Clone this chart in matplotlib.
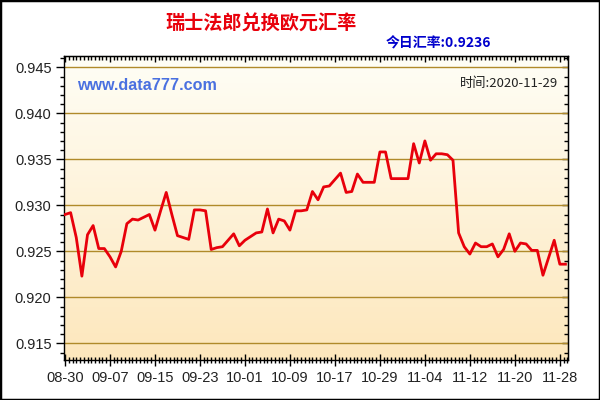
import matplotlib
matplotlib.use("Agg")
import matplotlib.pyplot as plt
import numpy as np
from matplotlib.ticker import MultipleLocator
from matplotlib.patches import Rectangle
from matplotlib.colors import LinearSegmentedColormap

plt.rcParams['font.family'] = ['Liberation Sans', 'Noto Sans CJK SC', 'DejaVu Sans']

title = "瑞士法郎兑换欧元汇率"
today_label = "今日汇率:0.9236"
site_label = "www.data777.com"
time_label = "时间:2020-11-29"

day_index = [0, 1, 2, 3, 4, 5, 6, 7, 8, 9, 10, 11, 12, 13, 14, 15, 16, 17, 18, 19,
             20, 21, 22, 23, 24, 25, 26, 27, 28, 29, 30, 31, 32, 33, 34, 35, 36, 37, 38, 39,
             40, 41, 42, 43, 44, 45, 46, 47, 48, 49, 50, 51, 52, 53, 54, 55, 56, 57, 58, 59,
             60, 61, 62, 63, 64, 65, 66, 67, 68, 69, 70, 71, 72, 73, 74, 75, 76, 77, 78, 79,
             80, 81, 82, 83, 84, 85, 86, 87, 88, 89]
rates = [0.9290, 0.9292, 0.9265, 0.9223, 0.9268, 0.9278, 0.9253, 0.9253, 0.9244, 0.9233,
         0.9250, 0.9280, 0.9285, 0.9284, 0.9287, 0.9290, 0.9273, 0.9294, 0.9314, 0.9290,
         0.9267, 0.9265, 0.9263, 0.9295, 0.9295, 0.9294, 0.9252, 0.9254, 0.9255, 0.9262,
         0.9269, 0.9256, 0.9262, 0.9266, 0.9270, 0.9271, 0.9296, 0.9270, 0.9285, 0.9283,
         0.9273, 0.9294, 0.9294, 0.9295, 0.9315, 0.9306, 0.9320, 0.9321, 0.9328, 0.9335,
         0.9314, 0.9315, 0.9334, 0.9325, 0.9325, 0.9325, 0.9358, 0.9358, 0.9329, 0.9329,
         0.9329, 0.9329, 0.9367, 0.9346, 0.9370, 0.9349, 0.9356, 0.9356, 0.9355, 0.9349,
         0.9270, 0.9255, 0.9247, 0.9259, 0.9255, 0.9255, 0.9258, 0.9244, 0.9252, 0.9269,
         0.9250, 0.9259, 0.9258, 0.9251, 0.9251, 0.9224, 0.9243, 0.9262, 0.9236, 0.9236]

tick_pos = [0, 8, 16, 24, 32, 40, 48, 56, 64, 72, 80, 88]
tick_labels = ["08-30", "09-07", "09-15", "09-23", "10-01", "10-09",
               "10-17", "10-29", "11-04", "11-12", "11-20", "11-28"]
y_ticks = [0.915, 0.920, 0.925, 0.930, 0.935, 0.940, 0.945]

fig = plt.figure(figsize=(6, 4), dpi=100)
fig.patch.set_facecolor('white')
ax = fig.add_axes([64/600, 1 - 360/400, 503.7/600, 304/400])

xmin, xmax = -0.18, 89.4
ymin, ymax = 0.913185, 0.94623
ax.set_xlim(xmin, xmax)
ax.set_ylim(ymin, ymax)

grad = np.linspace(0, 1, 256).reshape(-1, 1)
cmap = LinearSegmentedColormap.from_list('bg', ['#FDE7BC', '#FFFEF6'])
ax.imshow(grad, cmap=cmap, aspect='auto', extent=[xmin, xmax, ymin, ymax],
          origin='lower', zorder=0)

for yv in y_ticks:
    ax.axhline(yv, color='#B08A2A', lw=1.0, zorder=1)

ax.plot(day_index, rates, color='#E8000B', lw=2.0, zorder=3)

ax.set_xticks(tick_pos)
ax.set_xticklabels(tick_labels)
ax.xaxis.set_minor_locator(MultipleLocator(8/12))
ax.set_yticks(y_ticks)
ax.set_yticklabels([f"{v:.3f}" for v in y_ticks])
ax.yaxis.set_minor_locator(MultipleLocator(0.001))

ax.tick_params(axis='x', which='major', direction='inout', length=8, width=1,
               labelsize=10.5, pad=4, top=False, labelcolor='#222222')
ax.tick_params(axis='x', which='minor', direction='inout', length=5, width=1, top=False)
ax.tick_params(axis='y', which='major', direction='out', length=6, width=1,
               labelsize=10.5, pad=3, right=False, labelcolor='#222222')
ax.tick_params(axis='y', which='minor', direction='out', length=3, width=1, right=False)

axt = ax.secondary_xaxis('top')
axt.set_xticks(tick_pos)
axt.set_xticklabels([])
axt.xaxis.set_minor_locator(MultipleLocator(8/12))
axt.tick_params(which='major', direction='in', length=4, width=1)
axt.tick_params(which='minor', direction='in', length=3, width=1)
axr = ax.secondary_yaxis('right')
axr.set_yticks(y_ticks)
axr.set_yticklabels([])
axr.yaxis.set_minor_locator(MultipleLocator(0.001))
axr.tick_params(which='major', direction='in', length=4, width=1)
axr.tick_params(which='minor', direction='in', length=3, width=1)

for s in ax.spines.values():
    s.set_color('black')
    s.set_linewidth(1)

cjk = ['Noto Sans CJK SC', 'DejaVu Sans']
fig.text(261/600, 1 - 24/400, title, color='#E8000B', fontsize=13.8,
         fontweight='bold', ha='center', va='center', family=cjk)
fig.text(491/600, 1 - 43/400, today_label, color='#0000CC', fontsize=10,
         fontweight='bold', ha='right', va='center', family=cjk)
fig.text(77/600, 1 - 86/400, site_label, color='#4A70E0', fontsize=11.6,
         fontweight='bold', ha='left', va='center', family=['Liberation Sans'])
fig.text(558/600, 1 - 84/400, time_label, color='#222222', fontsize=9.5,
         ha='right', va='center', family=cjk)

fig.patches.append(Rectangle((0, 0), 1, 1, transform=fig.transFigure,
                             fill=False, edgecolor='black', lw=2.5, zorder=10))

fig.savefig('out.png', dpi=100)
